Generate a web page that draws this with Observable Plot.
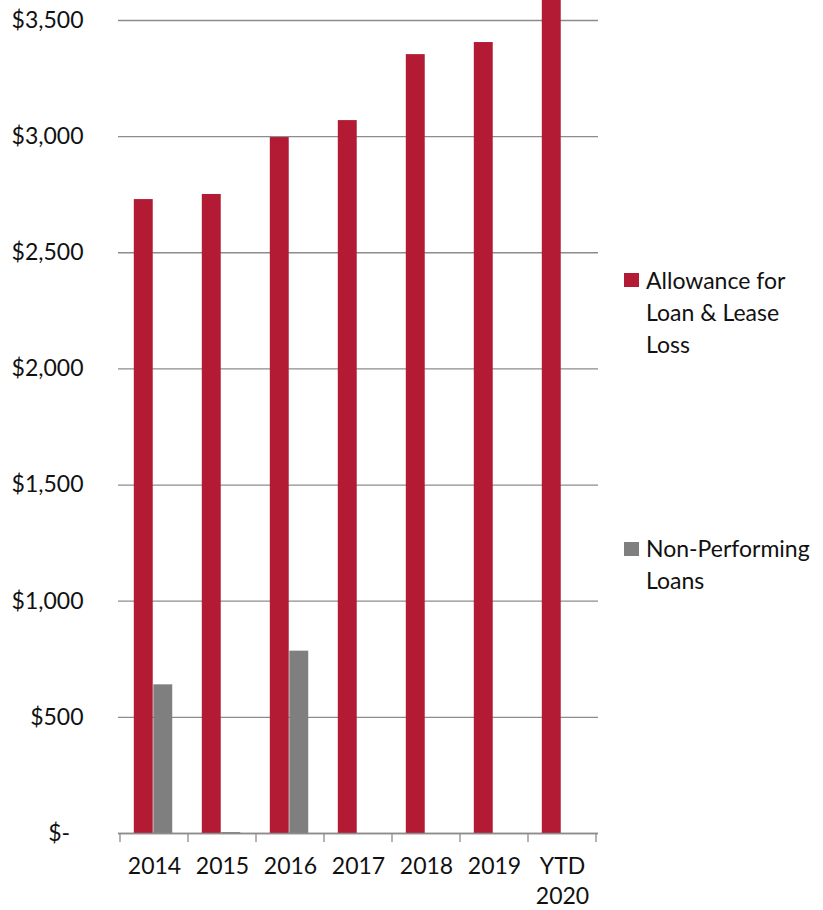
<!DOCTYPE html>
<html><head><meta charset="utf-8">
<script src="https://cdn.jsdelivr.net/npm/d3@7"></script>
<script src="https://cdn.jsdelivr.net/npm/@observablehq/plot@0.6"></script>
<style>
body{margin:0;background:#fff;font-family:Lato,sans-serif;}
#wrap{position:relative;width:823px;height:910px;overflow:hidden;}
#wrap svg{position:absolute;left:0;top:0;}
.leg{position:absolute;left:624px;font-family:Lato,sans-serif;font-size:23px;line-height:32px;color:#111;}
.leg .sw{position:absolute;left:0;width:15px;height:14px;}
.leg .tx{position:absolute;left:22px;top:0;white-space:nowrap;}
</style></head><body><div id="wrap"></div>
<script>
const years = ["2014", "2015", "2016", "2017", "2018", "2019", "YTD\n2020"];
const allowance = [2729, 2751, 2996, 3069, 3353, 3405, 3650];
const nonPerforming = [640, 4, 785, 0, 0, 0, 0];
const seriesNames = ["Allowance for\nLoan & Lease\nLoss", "Non-Performing\nLoans"];
const seriesColors = ["#B31B34", "#7F7F7F"];
const yTicks = [0, 500, 1000, 1500, 2000, 2500, 3000, 3500];

const W = 823, H = 910, ML = 118, MR = 225, MT = 0, MB = 77;
const step = (W - ML - MR) / years.length;
const gap0 = 13.8, bw = 19.5;
const axisColor = "#8C8C8C";

const rows = years.map((y, i) => ({year: y, allowance: allowance[i], npl: nonPerforming[i]}));

function boundaryTicks(index, scales, values, dim) {
  const x = scales.x;
  const s = (x && typeof x.step === "function") ? x.step() : (dim.width - dim.marginLeft - dim.marginRight) / years.length;
  const y0 = scales.y(0);
  const g = d3.create("svg:g").attr("stroke", axisColor).attr("stroke-width", 1.3);
  const xs = years.map(d => x(d));
  xs.push(x(years[years.length - 1]) + s);
  for (const xv of xs) {
    g.append("line").attr("x1", xv).attr("x2", xv).attr("y1", y0).attr("y2", y0 + 9);
  }
  return g.node();
}

const chart = Plot.plot({
  width: W, height: H,
  marginLeft: ML, marginRight: MR, marginTop: MT, marginBottom: MB,
  style: {fontFamily: "Lato, sans-serif", background: "transparent", overflow: "visible"},
  x: {type: "band", domain: years, padding: 0, axis: null},
  y: {domain: [0, 3586], axis: null},
  marks: [
    Plot.gridY(yTicks, {stroke: axisColor, strokeOpacity: 1, strokeWidth: 1.3}),
    Plot.barY(rows, {x: "year", y: "allowance", fill: seriesColors[0], insetLeft: gap0, insetRight: step - gap0 - bw, clip: true}),
    Plot.barY(rows, {x: "year", y: "npl", fill: seriesColors[1], insetLeft: gap0 + bw, insetRight: step - gap0 - 2 * bw, clip: true}),
    Plot.ruleY([0], {stroke: axisColor, strokeWidth: 1.3}),
    boundaryTicks,
    Plot.axisY({ticks: yTicks, tickSize: 0, tickPadding: 35, label: null, fontSize: 23, color: "#111",
      tickFormat: d => d === 0 ? "$-\u2007" : "$" + d3.format(",")(d)}),
    Plot.axisX({tickSize: 0, tickPadding: 19, label: null, fontSize: 23, lineHeight: 1.3, color: "#111"})
  ]
});

const wrap = document.getElementById("wrap");
wrap.appendChild(chart);

const legTops = [263.5, 532];
const swTops = [9, 10];
seriesNames.forEach((name, i) => {
  const item = document.createElement("div");
  item.className = "leg";
  item.style.top = legTops[i] + "px";
  const sw = document.createElement("div");
  sw.className = "sw";
  sw.style.top = swTops[i] + "px";
  sw.style.background = seriesColors[i];
  const tx = document.createElement("div");
  tx.className = "tx";
  tx.innerHTML = name.split("\n").map(s => s.replace(/&/g, "&amp;")).join("<br>");
  item.appendChild(sw);
  item.appendChild(tx);
  wrap.appendChild(item);
});
</script></body></html>
